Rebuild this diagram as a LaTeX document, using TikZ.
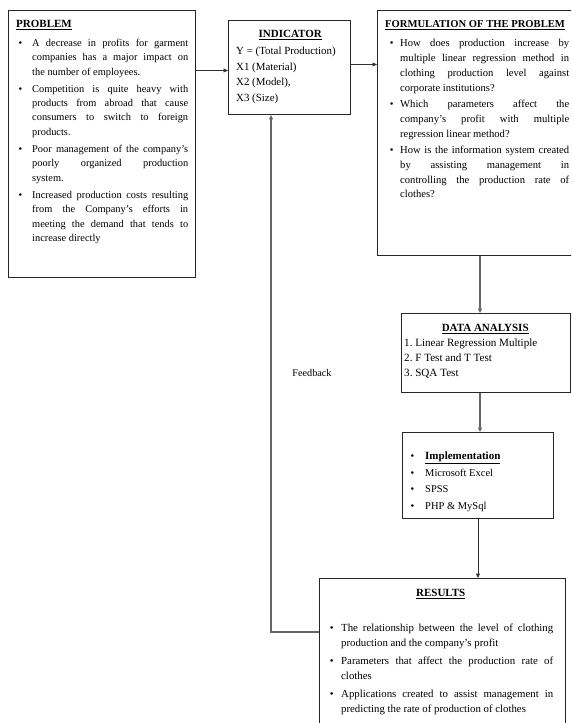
\documentclass[tikz,border=0pt]{standalone}
\usepackage{fontspec}
\setmainfont{Liberation Serif}
\usepackage{enumitem}
\usetikzlibrary{arrows.meta,calc}
\frenchspacing
\setlist[itemize]{label=\textbullet, topsep=0pt, partopsep=0pt, parsep=0pt, itemsep=0pt}
\tikzset{
  boxn/.style={draw=black!85, line width=0.9pt, fill=white, anchor=north west, inner sep=0pt},
  txt/.style={anchor=north west, inner sep=0pt, align=justify},
  conn/.style={draw=black!80, line width=0.9pt, -{Triangle[length=4.5pt,width=4pt]}},
  vconn/.style={draw=black!60, line width=1.1pt, -{Triangle[length=4.5pt,width=4pt]}},
}
\newcommand{\hd}[2][11]{{\fontsize{#1}{12}\selectfont\bfseries\underline{#2}}}
\begin{document}
\begin{tikzpicture}[x=1pt,y=-1pt]
\useasboundingbox (0,0) rectangle (571,723);
\clip (0,0) rectangle (571,723);
\fill[white] (0,0) rectangle (571,723);

% boxes
\node[boxn, minimum width=187pt, minimum height=267pt] (prob) at (8,10) {};
\node[boxn, minimum width=122pt, minimum height=94pt] (ind) at (228,20) {};
\node[boxn, minimum width=200pt, minimum height=245pt] (form) at (377,10) {};
\node[boxn, minimum width=169pt, minimum height=79pt] (data) at (401,313) {};
\node[boxn, minimum width=151pt, minimum height=86pt] (impl) at (402,432) {};
\node[boxn, minimum width=246pt, minimum height=160pt] (res) at (319,578) {};

% texts
\node[txt, text width=172pt, font=\fontsize{10.4}{14.3}\selectfont] (probt) at (16,20) {%
\hd{PROBLEM}\par
\begin{itemize}[leftmargin=16pt, labelsep=10pt, topsep=4.7pt, itemsep=3pt]
\item A decrease in profits for garment\linebreak companies has a major impact on\linebreak the number of employees.
\item Competition is quite heavy with\linebreak products from abroad that cause\linebreak consumers to switch to foreign\linebreak products.
\item Poor management of the company's\linebreak poorly organized production\linebreak system.
\item Increased production costs resulting\linebreak from the Company's efforts in\linebreak meeting the demand that tends to\linebreak increase directly
\end{itemize}};

\node[txt, align=flush left, text width=108pt, font=\fontsize{10.9}{15.6}\selectfont] (indt) at (236,30.5) {%
\makebox[108pt][c]{\hd{INDICATOR}}\\[1pt]
Y = (Total Production)\\
X1 (Material)\\
X2 (Model),\\
X3 (Size)};

\node[txt, text width=184pt, font=\fontsize{10.6}{14.7}\selectfont] (formt) at (385,20.3) {%
\mbox{\hd[10.6]{FORMULATION OF THE PROBLEM}}\par
\begin{itemize}[leftmargin=15pt, labelsep=6.5pt, topsep=4.7pt, itemsep=2pt]
\item How does production increase by\linebreak multiple linear regression method in\linebreak clothing production level against\linebreak corporate institutions?
\item Which parameters affect the\linebreak company's profit with multiple\linebreak regression linear method?
\item How is the information system created\linebreak by assisting management in\linebreak controlling the production rate of\linebreak clothes?
\end{itemize}};

\node[txt, align=flush left, text width=162pt, font=\fontsize{11.1}{15.2}\selectfont] (datat) at (404,324.5) {%
\makebox[162pt][c]{\hd{DATA ANALYSIS}}\\[-1pt]
1. Linear Regression Multiple\\
2. F Test and T Test\\
3. SQA Test};

\node[txt, align=flush left, text width=140pt, font=\fontsize{10.5}{14.6}\selectfont] (implt) at (410,445) {%
\begin{itemize}[leftmargin=15pt, labelsep=11pt, itemsep=1.8pt]
\item \hd{Implementation}
\item Microsoft Excel
\item SPSS
\item PHP \& MySql
\end{itemize}};

\node[txt, text width=225pt, font=\fontsize{10.8}{14.8}\selectfont] (rest) at (328,589) {%
\makebox[225pt][c]{\hd{RESULTS}}\par
\begin{itemize}[leftmargin=13pt, labelsep=7.5pt, topsep=20pt, itemsep=3.5pt]
\item The relationship between the level of clothing\linebreak production and the company's profit
\item Parameters that affect the production rate of\linebreak clothes
\item Applications created to assist management in\linebreak predicting the rate of production of clothes
\end{itemize}};

\node[font=\fontsize{10.2}{12}\selectfont, inner sep=0pt] (fbl) at (312,373) {Feedback};

% connectors
\coordinate (cx) at (480,0);
\coordinate (fb) at (271,632);
\draw[conn] ([yshift=-3pt]ind.west -| prob.east) -- ([yshift=-3pt]ind.west);
\draw[conn] ([yshift=3pt]ind.east) -- ([yshift=3pt]ind.east -| form.west);
\draw[vconn] (form.south -| cx) -- (data.north -| cx);
\draw[vconn] (data.south -| cx) -- (impl.north -| cx);
\draw[conn] (impl.south) -- (res.north -| impl.south);
\draw[vconn] (fb -| res.west) -- (fb) -- (fb |- ind.south);
\end{tikzpicture}
\end{document}
